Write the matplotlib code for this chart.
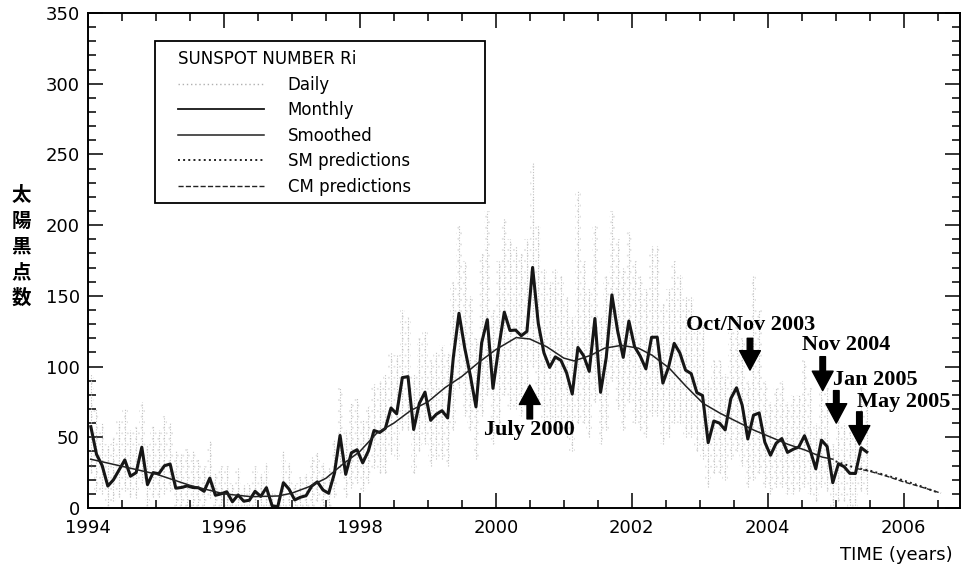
import matplotlib
matplotlib.use('Agg')
import matplotlib.pyplot as plt
import numpy as np
from matplotlib.patches import Rectangle

# monthly mean sunspot number Ri, Jan 1994 .. Jun 2005
monthly_1994 = [57.5, 38.0, 30.0, 15.5, 20.0, 27.0, 34.0, 22.5, 25.0, 43.0, 16.5, 25.0]
monthly_1995 = [24.2, 29.9, 31.1, 14.0, 14.5, 15.6, 14.5, 14.3, 11.8, 21.1, 9.0, 10.0]
monthly_1996 = [11.5, 4.4, 9.2, 4.8, 5.5, 11.8, 8.2, 14.4, 1.6, 0.9, 17.9, 13.3]
monthly_1997 = [5.7, 7.6, 8.7, 15.5, 18.5, 12.7, 10.4, 24.4, 51.3, 23.8, 39.0, 41.2]
monthly_1998 = [31.9, 40.3, 54.8, 53.4, 56.3, 70.7, 66.6, 92.2, 92.9, 55.5, 74.0, 81.9]
monthly_1999 = [62.0, 66.3, 68.8, 63.7, 106.4, 137.7, 113.5, 93.7, 71.5, 116.7, 133.2, 84.6]
monthly_2000 = [112.9, 138.5, 125.5, 125.8, 121.8, 124.9, 170.1, 130.5, 109.7, 99.4, 106.8, 104.4]
monthly_2001 = [95.6, 80.6, 113.5, 107.7, 96.6, 134.0, 81.8, 106.4, 150.7, 125.5, 106.5, 132.2]
monthly_2002 = [114.1, 107.4, 98.4, 120.7, 120.8, 88.3, 99.6, 116.4, 109.6, 97.5, 95.0, 81.6]
monthly_2003 = [79.5, 46.2, 61.5, 60.0, 55.2, 77.4, 85.0, 72.7, 48.8, 65.6, 67.2, 46.5]
monthly_2004 = [37.3, 45.8, 49.1, 39.3, 41.5, 43.2, 51.1, 40.9, 27.7, 48.0, 43.5, 17.9]
monthly_2005 = [31.3, 29.2, 24.5, 24.4, 42.6, 39.6]

# spread of the daily values inside each month (low / high)
daily_hi = [95, 70, 60, 45, 50, 62, 70, 55, 58, 75, 45, 58,
            55, 65, 60, 40, 38, 42, 40, 35, 30, 48, 25, 30,
            30, 18, 28, 16, 18, 30, 24, 32, 12, 10, 40, 32,
            18, 22, 24, 36, 40, 32, 28, 48, 85, 55, 75, 78,
            62, 72, 88, 90, 95, 110, 108, 140, 135, 95, 120, 125,
            105, 110, 115, 110, 160, 200, 175, 150, 120, 180, 210, 140,
            175, 205, 190, 185, 180, 190, 245, 200, 170, 160, 170, 165,
            150, 135, 225, 175, 155, 200, 135, 165, 210, 190, 170, 195,
            175, 165, 155, 185, 185, 145, 155, 175, 165, 150, 150, 130,
            130, 90, 105, 105, 95, 125, 135, 120, 90, 165, 140, 90,
            75, 85, 90, 75, 80, 80, 105, 85, 60, 90, 85, 45,
            80, 60, 55, 55, 85, 75]
daily_lo = [25, 12, 10, 0, 5, 8, 12, 8, 7, 18, 0, 8,
            8, 10, 12, 0, 0, 0, 0, 0, 0, 7, 0, 0,
            0, 0, 0, 0, 0, 0, 0, 0, 0, 0, 0, 0,
            0, 0, 0, 0, 5, 0, 0, 8, 25, 8, 14, 18,
            12, 18, 28, 25, 25, 38, 35, 55, 55, 25, 40, 45,
            30, 35, 35, 30, 55, 85, 65, 55, 35, 65, 80, 45,
            60, 80, 70, 70, 65, 70, 100, 75, 60, 55, 60, 55,
            50, 40, 60, 60, 50, 75, 45, 55, 90, 70, 55, 75,
            60, 55, 50, 65, 65, 45, 50, 60, 60, 50, 50, 40,
            35, 15, 25, 25, 20, 35, 40, 30, 15, 20, 25, 15,
            10, 15, 15, 10, 10, 12, 15, 10, 5, 15, 12, 0,
            5, 5, 0, 0, 12, 10]

# 13-month smoothed number
smooth_t = [1994.04, 1994.5, 1995.0, 1995.5, 1996.0, 1996.4, 1996.8, 1997.0, 1997.25,
            1997.5, 1997.75, 1998.0, 1998.25, 1998.5, 1998.75, 1999.0, 1999.25, 1999.5,
            1999.75, 2000.0, 2000.3, 2000.5, 2000.75, 2001.0, 2001.15, 2001.4, 2001.6,
            2001.85, 2002.1, 2002.3, 2002.55, 2002.8, 2003.05, 2003.3, 2003.55, 2003.8,
            2004.05, 2004.3, 2004.55, 2004.8, 2004.96]
smooth_v = [34.5, 29.5, 24.0, 16.0, 10.0, 8.0, 8.5, 10.5, 15.0,
            21.0, 31.0, 40.0, 53.0, 60.0, 69.0, 75.0, 85.0, 93.0,
            103.0, 112.0, 120.5, 119.5, 114.0, 106.0, 104.0, 108.0, 113.0,
            115.0, 113.0, 108.0, 99.0, 86.0, 74.0, 67.0, 61.0, 55.0,
            50.0, 45.0, 41.0, 36.0, 34.5]

# predictions
sm_t = [2005.0, 2005.25, 2005.5, 2005.75, 2006.0, 2006.25, 2006.5]
sm_v = [33.0, 29.0, 26.5, 23.0, 19.5, 15.5, 11.0]
cm_t = [2005.3, 2005.5, 2005.75, 2006.0, 2006.25, 2006.55]
cm_v = [28.0, 26.0, 22.5, 18.5, 15.0, 10.5]

monthly = (monthly_1994 + monthly_1995 + monthly_1996 + monthly_1997 + monthly_1998 +
           monthly_1999 + monthly_2000 + monthly_2001 + monthly_2002 + monthly_2003 +
           monthly_2004 + monthly_2005)
t_month = 1994 + (np.arange(len(monthly)) + 0.5) / 12

fig = plt.figure(figsize=(9.63, 5.69), dpi=100)
ax = fig.add_axes([88 / 963, 1 - 508 / 569, 872 / 963, 495 / 569])

plt.rcParams['hatch.linewidth'] = 0.6
ax.fill_between(t_month, daily_lo, daily_hi, step='mid', facecolor='none',
                edgecolor='#e2e2e2', hatch='...', lw=0)
ax.vlines(t_month, daily_lo, daily_hi, colors='#c0c0c0',
          linestyles=(0, (1, 1.5)), lw=0.8)
mon, = ax.plot(t_month, monthly, color='#161616', lw=2.2)
smo, = ax.plot(smooth_t, smooth_v, color='#222222', lw=1.1)
smp, = ax.plot(sm_t, sm_v, color='#222222', lw=1.4, ls=':')
cmp_, = ax.plot(cm_t, cm_v, color='#222222', lw=1.0, ls='--')

ax.set_xlim(1994, 2006.83)
ax.set_ylim(0, 350)
ax.set_xticks(np.arange(1994, 2007, 2))
ax.set_xticks(np.arange(1994, 2007, 0.5), minor=True)
ax.set_yticks(np.arange(0, 351, 50))
ax.set_yticks(np.arange(0, 351, 10), minor=True)
ax.tick_params(which='both', direction='in', top=True, right=True, width=1.1,
               labelsize=13, colors='black')
ax.tick_params(which='major', length=11)
ax.tick_params(which='minor', length=5.5)
ax.tick_params(axis='x', pad=8)
ax.tick_params(axis='y', pad=6)
for s in ax.spines.values():
    s.set_linewidth(1.4)

# legend box
ax.add_patch(Rectangle((0.0768, 0.6162), 0.3784, 0.3273, transform=ax.transAxes,
                       fill=False, ec='black', lw=1.3, zorder=5))
dh = plt.Line2D([], [], color='#b0b0b0', ls=(0, (1, 2)), lw=1)
mh = plt.Line2D([], [], color='#161616', lw=1.3)
leg = ax.legend([dh, mh, smo, smp, cmp_],
                ['Daily', 'Monthly', 'Smoothed', 'SM predictions', 'CM predictions'],
                title='SUNSPOT NUMBER Ri', alignment='left', frameon=False,
                loc='upper left', bbox_to_anchor=(0.103, 0.925), borderaxespad=0,
                borderpad=0, fontsize=12, title_fontsize=12, handlelength=5.2,
                handletextpad=1.4, labelspacing=0.45)

# event annotations
serif = dict(family='Liberation Serif', weight='bold', fontsize=16)
arrow = dict(arrowstyle='simple,head_length=0.7,head_width=0.75,tail_width=0.2',
             fc='black', ec='black', shrinkA=0, shrinkB=0, mutation_scale=20)
ax.annotate('', xy=(2000.5, 87), xytext=(2000.5, 63), arrowprops=arrow)
ax.text(2000.5, 55, 'July 2000', ha='center', va='center', **serif)
ax.annotate('', xy=(2003.74, 97.5), xytext=(2003.74, 120), arrowprops=arrow)
ax.text(2003.75, 129.5, 'Oct/Nov 2003', ha='center', va='center', **serif)
ax.annotate('', xy=(2004.81, 83), xytext=(2004.81, 107), arrowprops=arrow)
ax.text(2004.51, 115.5, 'Nov 2004', ha='left', va='center', **serif)
ax.annotate('', xy=(2005.01, 60), xytext=(2005.01, 83), arrowprops=arrow)
ax.text(2004.96, 90.5, 'Jan 2005', ha='left', va='center', **serif)
ax.annotate('', xy=(2005.35, 44.5), xytext=(2005.35, 68), arrowprops=arrow)
ax.text(2005.31, 75, 'May 2005', ha='left', va='center', **serif)

fig.text(21 / 963, 1 - 247 / 569, '太\n陽\n黒\n点\n数', ha='center', va='center',
         family='Noto Sans CJK JP', weight='bold', fontsize=14, linespacing=1.45)
fig.text(953 / 963, 1 - 555 / 569, 'TIME (years)', ha='right', va='center', fontsize=13)

fig.savefig('out.png', dpi=100)
